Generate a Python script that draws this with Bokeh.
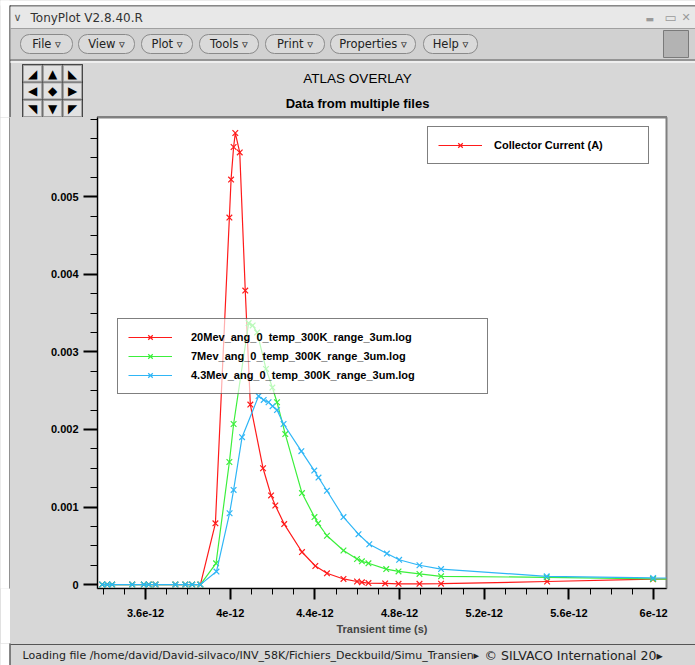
from bokeh.plotting import figure
from bokeh.models import Range1d, FixedTicker, Legend, LegendItem, Label, BoxAnnotation
from bokeh.layouts import column, row
from bokeh.embed import file_html
from bokeh.resources import INLINE

W, H = 695, 665

# ---------------- data (time in ps, current in A) ----------------
t_20mev_ps = [3.395, 3.419, 3.442, 3.537, 3.592, 3.615, 3.647, 3.741, 3.788, 3.820, 3.859,
              3.930, 3.996, 4.004, 4.016, 4.024, 4.045, 4.071, 4.095, 4.155, 4.193, 4.213,
              4.255, 4.339, 4.402, 4.457, 4.535, 4.599, 4.622, 4.653, 4.732, 4.795, 4.894,
              4.996, 5.497, 5.997, 6.120]
i_20mev = [0, 0, 0, 0, 0, 0, 0, 0, 0, 0, 0,
           0.00079, 0.00473, 0.00522, 0.00564, 0.00582, 0.00557, 0.00379, 0.00232, 0.00150,
           0.00115, 0.00102, 0.00078, 0.00042, 0.00024, 0.000146, 0.000073, 0.00004, 0.00003,
           0.00002, 0.000015, 0.00001, 0.00001, 0.000012, 0.00004, 0.00007, 0.000075]

t_7mev_ps = [3.395, 3.419, 3.442, 3.537, 3.592, 3.615, 3.647, 3.741, 3.788, 3.820, 3.859,
             3.933, 3.996, 4.016, 4.087, 4.106, 4.127, 4.169, 4.199, 4.221, 4.260, 4.339,
             4.398, 4.415, 4.457, 4.535, 4.599, 4.622, 4.653, 4.737, 4.795, 4.894, 4.996,
             5.495, 5.998, 6.120]
i_7mev = [0, 0, 0, 0, 0, 0, 0, 0, 0, 0, 0,
          0.000275, 0.00158, 0.00207, 0.00337, 0.00334, 0.00325, 0.00278, 0.00254, 0.00235,
          0.00194, 0.00118, 0.00087, 0.00079, 0.00063, 0.00044, 0.00033, 0.00030, 0.000275,
          0.00020, 0.00017, 0.000138, 0.000107, 0.000094, 0.000073, 0.00007]

t_43mev_ps = [3.395, 3.419, 3.442, 3.537, 3.592, 3.615, 3.647, 3.741, 3.788, 3.820, 3.859,
              3.935, 3.997, 4.016, 4.056, 4.134, 4.158, 4.181, 4.200, 4.221, 4.252, 4.336,
              4.397, 4.417, 4.457, 4.535, 4.606, 4.657, 4.740, 4.798, 4.894, 4.996, 5.495,
              5.998, 6.120]
i_43mev = [0, 0, 0, 0, 0, 0, 0, 0, 0, 0, 0,
           0.000168, 0.00092, 0.00122, 0.0019, 0.00243, 0.00238, 0.00235, 0.0023, 0.00225,
           0.00207, 0.00172, 0.00147, 0.00138, 0.00121, 0.00087, 0.00065, 0.00052, 0.0004,
           0.00032, 0.00025, 0.0002, 0.000107, 0.000086, 0.000085]

series_names = ["20Mev_ang_0_temp_300K_range_3um.log",
                "7Mev_ang_0_temp_300K_range_3um.log",
                "4.3Mev_ang_0_temp_300K_range_3um.log"]
series_colors = ["#ff1a1a", "#3cef3c", "#2fb6f6"]

x_ticks = [3.6e-12, 4e-12, 4.4e-12, 4.8e-12, 5.2e-12, 5.6e-12, 6e-12]
x_tick_labels = ["3.6e-12", "4e-12", "4.4e-12", "4.8e-12", "5.2e-12", "5.6e-12", "6e-12"]
y_ticks = [0, 0.001, 0.002, 0.003, 0.004, 0.005]
y_tick_labels = ["0", "0.001", "0.002", "0.003", "0.004", "0.005"]

x_minor = [round(3.4 + 0.1 * k, 2) * 1e-12 for k in range(27)]
y_minor = [0.00025 * k for k in range(25)]

menu_labels = ["File ▿", "View ▿", "Plot ▿", "Tools ▿", "Print ▿", "Properties ▿", "Help ▿"]
nav_arrows = ["◢", "▲", "◣", "◀", "◆", "▶", "◥", "▼", "◤"]

FONT = "Liberation Sans"
UI_FONT = "DejaVu Sans"
PANEL = "#d7d7d7"
BG_STYLE = {"background-color": PANEL}

TOP_H = 117          # chrome + titles strip
STATUS_H = 22        # status bar strip
MID_H = H - TOP_H - STATUS_H
EDGE_W = 10


def blank(w, h, xr, yr, bg):
    f = figure(width=w, height=h, output_backend="svg", toolbar_location=None, title=None,
               x_range=Range1d(*xr), y_range=Range1d(*yr),
               x_axis_type=None, y_axis_type=None, min_border=0, styles=BG_STYLE)
    if f.title is not None:
        f.title.visible = False
    f.outline_line_color = None
    f.background_fill_color = bg
    f.border_fill_color = bg
    return f


def lab(f, x, y, s, size="12px", font=UI_FONT, style="normal", color="#222222", align="left"):
    f.add_layout(Label(x=x, y=y, text=s, text_font=font, text_font_size=size,
                       text_font_style=style, text_color=color, text_align=align,
                       text_baseline="middle"))


# ---------------- top strip: window title, menu bar, titles, nav pad ----------------
top = blank(W, TOP_H, (0, W), (TOP_H, 0), PANEL)
top.quad(left=-2, right=9, top=-2, bottom=TOP_H + 2, fill_color="white", line_color=None)
top.quad(left=-2, right=W + 2, top=-2, bottom=5, fill_color="white", line_color=None)
top.segment(x0=9.5, y0=5, x1=9.5, y1=TOP_H + 2, line_color="#222222", line_width=1)
top.segment(x0=9.5, y0=5.5, x1=W + 2, y1=5.5, line_color="#222222", line_width=1)
top.quad(left=10, right=W + 2, top=6, bottom=28, fill_color="#e8e8e8", line_color=None)
top.quad(left=10, right=W + 2, top=28, bottom=59, fill_color="#d1d1d1", line_color=None)
top.segment(x0=10, y0=28, x1=W, y1=28, line_color="#a0a0a0", line_width=1)
top.segment(x0=10, y0=59.5, x1=W, y1=59.5, line_color="#555555", line_width=1.2)
top.quad(left=10, right=W + 2, top=60.5, bottom=62.5, fill_color="#efefef", line_color=None)
top.quad(left=663, right=688, top=30, bottom=57, fill_color="#b3b3b3", line_color="#7a7a7a")
# top edge of the plot frame
top.segment(x0=96.5, y0=116.5, x1=666.5, y1=116.5, line_color="#808080", line_width=2)

menu_edges = [(20, 72), (78, 134), (141, 192), (199, 258), (265, 324), (330, 415), (423, 477)]
for (l, r), txt in zip(menu_edges, menu_labels):
    top.add_layout(BoxAnnotation(left=l, right=r, top=34, bottom=53, fill_color="#dadada",
                                 fill_alpha=1, line_color="#8a8a8a", line_alpha=1,
                                 line_width=1, border_radius=9))
for (l, r), txt in zip(menu_edges, menu_labels):
    lab(top, (l + r) / 2, 43.5, txt, size="11.5px", align="center")

lab(top, 13, 17, "∨", size="11px", color="#555555")
lab(top, 30, 17, "TonyPlot V2.8.40.R", size="12px", color="#333333")
lab(top, 645, 18, "▬", size="9px", color="#9a9a9a")
lab(top, 664, 17, "▭", size="13px", color="#9a9a9a")
lab(top, 681, 17, "✕", size="11px", color="#9a9a9a")

# navigation pad (3x3 buttons)
top.quad(left=22, right=82, top=64, bottom=117, fill_color="#555555", line_color="#333333")
cell_w, cell_h = 20, 17.6
for k, a in enumerate(nav_arrows):
    r_i, c_i = divmod(k, 3)
    l = 22 + c_i * cell_w
    t = 64 + r_i * cell_h
    top.quad(left=l + 0.8, right=l + cell_w - 0.8, top=t + 0.8, bottom=t + cell_h - 0.8,
             fill_color="#e2e2e2", line_color="#a0a0a0")
    lab(top, l + cell_w / 2, t + cell_h / 2 + 0.5, a, size="12px", font="DejaVu Sans",
        color="black", align="center")

lab(top, 357, 78, "ATLAS OVERLAY", size="13.5px", font=FONT, color="black", align="center")
lab(top, 357, 103, "Data from multiple files", size="13px", font=FONT, style="bold",
    color="black", align="center")

# ---------------- left window edge ----------------
edge = blank(EDGE_W, MID_H, (0, EDGE_W), (0, MID_H), "white")
edge.quad(left=10 - 0.01, right=12, bottom=-2, top=MID_H + 2, fill_color=PANEL, line_color=None)
edge.segment(x0=9.5, y0=-2, x1=9.5, y1=MID_H + 2, line_color="#222222", line_width=1)

# ---------------- main plot ----------------
p = figure(width=W - EDGE_W, height=MID_H, output_backend="svg", toolbar_location=None, title=None,
           x_range=Range1d(3.373e-12, 6.061e-12), y_range=Range1d(-0.00005, 0.00602),
           min_border_left=87, min_border_right=29, min_border_top=0, min_border_bottom=55,
           styles=BG_STYLE)
if p.title is not None:
    p.title.visible = False
p.background_fill_color = "white"
p.border_fill_color = PANEL
p.outline_line_color = "#808080"
p.outline_line_width = 2
p.grid.visible = False

p.xaxis.ticker = FixedTicker(ticks=x_ticks, minor_ticks=x_minor)
p.xaxis.major_label_overrides = dict(zip(x_ticks, x_tick_labels))
p.yaxis.ticker = FixedTicker(ticks=y_ticks, minor_ticks=y_minor)
p.yaxis.major_label_overrides = dict(zip(y_ticks, y_tick_labels))
for ax in (p.xaxis[0], p.yaxis[0]):
    ax.axis_line_color = "black"
    ax.major_tick_in = 0
    ax.minor_tick_in = 0
    ax.major_tick_line_color = "black"
    ax.minor_tick_line_color = "black"
    ax.major_tick_line_width = 2
    ax.major_label_text_font = FONT
    ax.major_label_text_font_style = "bold"
    ax.major_label_text_font_size = "11px"
    ax.major_label_text_color = "black"
p.yaxis.major_tick_out = 14
p.yaxis.minor_tick_out = 7
p.yaxis.major_label_standoff = 5
p.xaxis.major_tick_out = 11
p.xaxis.minor_tick_out = 6
p.xaxis.major_label_standoff = 9
p.xaxis.axis_label = "Transient time (s)"
p.xaxis.axis_label_text_font = FONT
p.xaxis.axis_label_text_font_style = "bold"
p.xaxis.axis_label_text_font_size = "11px"
p.xaxis.axis_label_standoff = 3

renderers = []
for ts, ys, col in zip([t_20mev_ps, t_7mev_ps, t_43mev_ps], [i_20mev, i_7mev, i_43mev], series_colors):
    xs = [v * 1e-12 for v in ts]
    ln = p.line(xs, ys, line_color=col, line_width=1.2)
    sc = p.scatter(xs, ys, marker="x", size=8, line_color=col, line_width=1.2)
    renderers.append((ln, sc))

legend_common = dict(border_line_color="black", border_line_width=1,
                     background_fill_color="white", background_fill_alpha=0.65,
                     label_text_font=FONT, label_text_font_style="bold",
                     label_text_font_size="11px", label_text_color="black",
                     glyph_width=44, glyph_height=16, label_height=16,
                     padding=10, spacing=3, margin=0)
leg1 = Legend(items=[LegendItem(label="Collector Current (A)", renderers=[renderers[0][0], renderers[0][1]])],
              location=(330, 424), label_standoff=12, label_width=144, **legend_common)
leg2 = Legend(items=[LegendItem(label=n, renderers=[r[0], r[1]]) for n, r in zip(series_names, renderers)],
              location=(20, 194), label_standoff=19, label_width=286, **legend_common)
p.add_layout(leg1, "center")
p.add_layout(leg2, "center")

# ---------------- status bar ----------------
status = blank(W, STATUS_H, (0, W), (STATUS_H, 0), PANEL)
status.quad(left=-2, right=9, top=-2, bottom=STATUS_H + 2, fill_color="white", line_color=None)
status.segment(x0=9.5, y0=-2, x1=9.5, y1=STATUS_H + 2, line_color="#222222", line_width=1)
status.segment(x0=10, y0=1, x1=W, y1=1, line_color="#555555", line_width=1.2)
lab(status, 22, 12, "Loading file /home/david/David-silvaco/INV_58K/Fichiers_Deckbuild/Simu_Transien▸",
    size="11px")
lab(status, 484, 12, "© SILVACO International 20▸", size="12.5px")

mid = row(edge, p, spacing=0, styles=BG_STYLE)
layout = column(top, mid, status, spacing=0, styles=BG_STYLE)
open("out.html", "w").write(file_html(layout, INLINE))
